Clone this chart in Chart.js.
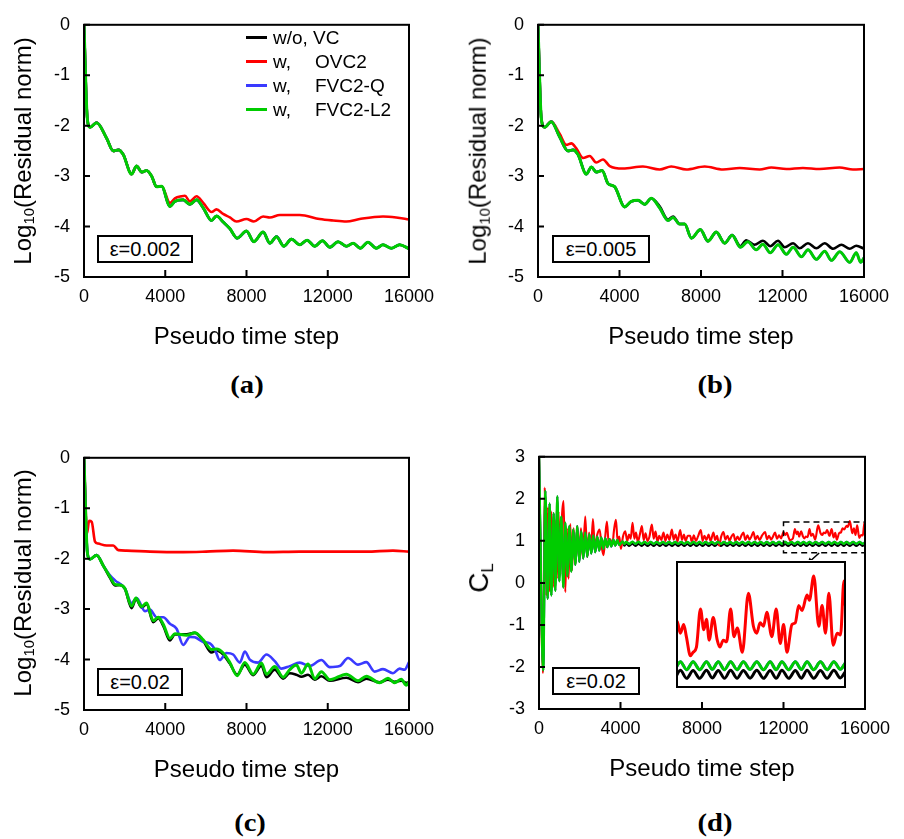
<!DOCTYPE html>
<html><head><meta charset="utf-8">
<script src="https://cdn.jsdelivr.net/npm/chart.js@4.4.1/dist/chart.umd.min.js"></script>
<style>
body{margin:0;background:#fff;width:904px;height:839px;position:relative;overflow:hidden;font-family:'Liberation Sans',Arial,sans-serif;color:#000}
canvas{position:absolute}
.ytitle{position:absolute;transform:translate(-50%,-50%) rotate(-90deg);white-space:nowrap;font-size:24px;line-height:1}
.ytitle sub{font-size:0.62em;vertical-align:-0.25em}
.cl{font-size:28px}
.cl sub{font-size:0.6em;vertical-align:-0.3em}
.cap{position:absolute;transform:translate(-50%,-50%) scaleX(1.1);font-family:'Liberation Serif','Times New Roman',serif;font-weight:bold;font-size:26px;white-space:nowrap;line-height:1}
.eps{position:absolute;border:2px solid #000;box-sizing:border-box;display:flex;align-items:center;justify-content:center;font-size:20px;background:#fff}
.legline{position:absolute;height:3px;width:21px}
.legtxt{position:absolute;font-size:19px;transform:translateY(-50%);white-space:nowrap;line-height:1}
</style></head>
<body>
<canvas id="ca" width="452" height="360" style="left:0;top:0"></canvas>
<canvas id="cb" width="452" height="360" style="left:452px;top:0"></canvas>
<canvas id="cc" width="452" height="360" style="left:0;top:433px"></canvas>
<canvas id="cd" width="452" height="360" style="left:452px;top:432px"></canvas>
<canvas id="ci" width="172" height="129" style="left:675px;top:560px;background:#fff"></canvas>
<div id="overlay"></div>
<script>
// ---------- DATA ----------
const stepTicks = [0, 4000, 8000, 12000, 16000];
const resTicks = [0, -1, -2, -3, -4, -5];
const clTicks = [3, 2, 1, 0, -1, -2, -3];
const seriesLabels = [['w/o, VC', ''], ['w,', 'OVC2'], ['w,', 'FVC2-Q'], ['w,', 'FVC2-L2']];
const epsLabels = ['ε=0.002', 'ε=0.005', 'ε=0.02', 'ε=0.02'];
const panelLabels = ['(a)', '(b)', '(c)', '(d)'];
const xTitle = 'Pseudo time step';

// (a) eps=0.002 : w/o VC, FVC2-Q, FVC2-L2 coincide
const aBase = [[0,0],[165,-1.87],[300,-2.03],[620,-1.94],[1115,-2.25],[1440,-2.5],[1690,-2.48],[1930,-2.57],[2340,-2.96],[2590,-2.8],[2840,-2.92],[3080,-2.89],[3330,-3.0],[3570,-3.21],[3820,-3.2],[4230,-3.6],[4475,-3.5],[4885,-3.47],[5210,-3.56],[5540,-3.47],[5870,-3.63],[6280,-3.88],[6520,-3.79],[6850,-3.91],[7180,-4.04],[7540,-4.23],[8000,-4.09],[8360,-4.3],[8820,-4.11],[9150,-4.33],[9475,-4.2],[9840,-4.39],[10210,-4.25],[10620,-4.36],[10980,-4.27],[11360,-4.39],[11740,-4.28],[12100,-4.41],[12510,-4.3],[12920,-4.39],[13250,-4.33],[13600,-4.43],[13980,-4.31],[14390,-4.43],[14720,-4.36],[15130,-4.43],[15540,-4.36],[16000,-4.44]];
const aOVC2 = [[0,0],[165,-1.87],[300,-2.03],[620,-1.94],[1115,-2.25],[1440,-2.5],[1690,-2.48],[1930,-2.57],[2340,-2.96],[2590,-2.8],[2840,-2.92],[3080,-2.89],[3330,-3.0],[3570,-3.21],[3820,-3.2],[4230,-3.53],[4475,-3.44],[4800,-3.4],[4970,-3.39],[5210,-3.5],[5540,-3.4],[5870,-3.53],[6280,-3.71],[6520,-3.66],[6850,-3.75],[7180,-3.82],[7510,-3.9],[8000,-3.85],[8360,-3.9],[8820,-3.8],[9150,-3.82],[9640,-3.77],[10620,-3.77],[11600,-3.85],[12260,-3.88],[12920,-3.9],[13570,-3.85],[14720,-3.8],[15370,-3.82],[16000,-3.86]];

// (b) eps=0.005 : FVC2-Q and FVC2-L2 coincide
const bVC = [[0,0],[165,-1.87],[330,-2.03],[650,-1.92],[1060,-2.22],[1470,-2.5],[1720,-2.48],[1960,-2.57],[2370,-2.96],[2620,-2.82],[2860,-2.92],[3150,-2.89],[3440,-3.15],[3760,-3.21],[4250,-3.61],[4580,-3.5],[4910,-3.48],[5240,-3.56],[5560,-3.44],[5970,-3.6],[6380,-3.86],[6630,-3.8],[6950,-3.95],[7200,-3.95],[7530,-4.23],[7970,-4.06],[8340,-4.29],[8750,-4.11],[9160,-4.33],[9530,-4.17],[9930,-4.39],[10220,-4.27],[10630,-4.36],[11040,-4.28],[11400,-4.39],[11780,-4.28],[12110,-4.41],[12520,-4.33],[12840,-4.43],[13250,-4.33],[13660,-4.43],[14070,-4.33],[14480,-4.44],[14890,-4.36],[15300,-4.44],[15620,-4.38],[16000,-4.44]];
const bOVC2 = [[0,0],[165,-1.87],[330,-2.03],[650,-1.92],[1060,-2.16],[1390,-2.38],[1640,-2.35],[1880,-2.45],[2210,-2.64],[2540,-2.6],[2860,-2.73],[3190,-2.67],[3520,-2.8],[4170,-2.85],[5150,-2.81],[5970,-2.87],[6540,-2.81],[7280,-2.87],[8180,-2.81],[9080,-2.87],[9900,-2.84],[10880,-2.87],[11450,-2.83],[12190,-2.86],[13000,-2.84],[13820,-2.86],[14800,-2.83],[15460,-2.87],[16000,-2.86]];
const bFVC = [[0,0],[165,-1.87],[330,-2.03],[650,-1.92],[1060,-2.22],[1470,-2.5],[1720,-2.48],[1960,-2.57],[2370,-2.96],[2620,-2.82],[2860,-2.92],[3150,-2.89],[3440,-3.15],[3760,-3.21],[4250,-3.61],[4580,-3.5],[4910,-3.48],[5240,-3.56],[5560,-3.44],[5970,-3.63],[6380,-3.88],[6630,-3.82],[6950,-3.95],[7200,-3.95],[7530,-4.23],[7970,-4.06],[8340,-4.29],[8750,-4.11],[9160,-4.33],[9530,-4.17],[9930,-4.41],[10300,-4.3],[10710,-4.46],[11040,-4.35],[11400,-4.52],[11780,-4.36],[12190,-4.55],[12520,-4.41],[12930,-4.6],[13250,-4.46],[13660,-4.65],[14070,-4.49],[14400,-4.67],[14810,-4.5],[15300,-4.71],[15620,-4.52],[15840,-4.71],[16000,-4.62]];

// (c) eps=0.02
const cVC = [[0,0],[165,-1.88],[300,-2.01],[620,-1.93],[950,-2.14],[1280,-2.38],[1525,-2.53],[1770,-2.52],[2015,-2.6],[2344,-2.98],[2557,-2.8],[2836,-2.97],[3082,-2.9],[3410,-3.26],[3656,-3.18],[3902,-3.33],[4229,-3.62],[4475,-3.5],[5049,-3.5],[5459,-3.47],[5869,-3.63],[6278,-3.86],[6524,-3.82],[6852,-3.9],[7180,-4.08],[7540,-4.3],[7917,-4.1],[8327,-4.31],[8737,-4.12],[8983,-4.35],[9392,-4.2],[9802,-4.38],[10130,-4.27],[10457,-4.3],[10703,-4.34],[11031,-4.3],[11359,-4.4],[11687,-4.33],[12097,-4.42],[12916,-4.36],[13490,-4.45],[13900,-4.38],[14555,-4.45],[14965,-4.4],[15292,-4.44],[15620,-4.42],[15866,-4.46],[16000,-4.45]];
const cOVC2 = [[0,0],[150,-1.5],[250,-1.25],[380,-1.27],[540,-1.66],[700,-1.7],[1115,-1.74],[1440,-1.74],[1690,-1.83],[2100,-1.84],[3250,-1.86],[4880,-1.87],[6000,-1.86],[7340,-1.84],[8980,-1.87],[10620,-1.86],[12260,-1.86],[13900,-1.86],[15210,-1.84],[16000,-1.86]];
const cFVCQ = [[0,0],[165,-1.88],[300,-2.01],[620,-1.93],[950,-2.14],[1280,-2.33],[1525,-2.43],[2015,-2.59],[2344,-2.88],[2590,-2.78],[3000,-3.04],[3245,-3.01],[3573,-3.16],[3902,-3.16],[4229,-3.29],[4557,-3.39],[4884,-3.71],[5212,-3.55],[5458,-3.56],[5868,-3.65],[6196,-3.68],[6442,-3.8],[6687,-4.01],[7015,-3.87],[7343,-3.9],[7671,-4.06],[7917,-3.84],[8163,-4.0],[8572,-4.06],[8982,-3.9],[9392,-4.03],[9720,-4.18],[10130,-4.13],[10621,-4.06],[11113,-4.13],[11686,-4.01],[12097,-4.15],[12588,-4.13],[12998,-3.97],[13490,-4.1],[13900,-4.05],[14309,-4.24],[14719,-4.19],[15210,-4.27],[15538,-4.18],[15784,-4.2],[16000,-4.05]];
const cFVCL2 = [[0,0],[165,-1.88],[300,-2.01],[620,-1.93],[950,-2.14],[1280,-2.36],[1525,-2.51],[1770,-2.52],[2015,-2.59],[2344,-2.94],[2557,-2.78],[2836,-2.95],[3082,-2.88],[3410,-3.23],[3656,-3.16],[3902,-3.3],[4229,-3.58],[4475,-3.49],[5049,-3.52],[5459,-3.47],[5869,-3.61],[6278,-3.8],[6524,-3.79],[6852,-3.87],[7180,-4.06],[7540,-4.32],[7917,-4.06],[8327,-4.29],[8737,-4.07],[8983,-4.29],[9392,-4.14],[9802,-4.35],[10130,-4.2],[10457,-4.11],[10703,-4.27],[11031,-4.09],[11359,-4.38],[11687,-4.24],[12097,-4.4],[12916,-4.29],[13490,-4.42],[13900,-4.33],[14555,-4.46],[14965,-4.37],[15292,-4.46],[15620,-4.39],[15866,-4.51],[16000,-4.44]];

// (d) lift coefficient, eps=0.02 ; transient shared by VC / FVC2 runs
const dEarly = [[0,3.05],[210,-2.08],[310,2.19],[425,-0.38],[523,1.89],[605,-0.3],[719,1.66],[800,-0.19],[899,2.06],[997,0.04],[1095,1.58],[1193,-0.11],[1291,1.43],[1389,0.16],[1487,1.35],[1585,0.27],[1683,1.27],[1781,0.43],[1879,1.35],[1977,0.5],[2075,1.23],[2173,0.58],[2271,1.2],[2369,0.62],[2467,1.16],[2565,0.7],[2663,1.13],[2761,0.73],[2860,1.1],[2958,0.77],[3056,1.08],[3154,0.81],[3252,1.06],[3350,0.85],[3448,1.04],[3546,0.87],[3644,1.03],[3742,0.89],[3840,1.02],[3938,0.9]];
const dFVCLate = [[4100,0.985],[4190,0.925],[4280,0.98],[4430,0.925],[4580,0.98],[4730,0.928],[4880,0.978],[5030,0.93],[5180,0.976],[5330,0.93],[5480,0.975],[5630,0.93],[5780,0.976],[5930,0.93],[6080,0.975],[6230,0.929],[6380,0.975],[6530,0.93],[6680,0.976],[6830,0.93],[6980,0.975],[7130,0.93],[7280,0.974],[7430,0.931],[7580,0.975],[7730,0.93],[7880,0.975],[8030,0.93],[8180,0.976],[8330,0.93],[8480,0.975],[8630,0.93],[8780,0.975],[8930,0.931],[9080,0.975],[9230,0.93],[9380,0.974],[9530,0.93],[9680,0.975],[9830,0.93],[9980,0.975],[10130,0.93],[10280,0.976],[10430,0.93],[10580,0.975],[10730,0.93],[10880,0.975],[11030,0.931],[11180,0.975],[11330,0.93],[11480,0.975],[11630,0.93],[11780,0.975],[11930,0.93],[12080,0.976],[12230,0.93],[12383,0.975],[12540,0.93],[12702,0.976],[12840,0.932],[12982,0.975],[13130,0.93],[13277,0.976],[13430,0.93],[13580,0.975],[13740,0.931],[13899,0.976],[14060,0.93],[14218,0.975],[14360,0.93],[14498,0.976],[14660,0.93],[14817,0.975],[14960,0.931],[15096,0.976],[15255,0.93],[15415,0.975],[15575,0.93],[15735,0.976],[15890,0.932],[16000,0.965]];
const dVCLate = [[4100,0.96],[4190,0.885],[4280,0.935],[4430,0.88],[4580,0.93],[4730,0.88],[4880,0.928],[5030,0.882],[5180,0.926],[5330,0.88],[5480,0.925],[5630,0.88],[5780,0.926],[5930,0.88],[6080,0.925],[6230,0.879],[6380,0.925],[6530,0.88],[6680,0.926],[6830,0.88],[6980,0.925],[7130,0.88],[7280,0.924],[7430,0.881],[7580,0.925],[7730,0.88],[7880,0.925],[8030,0.88],[8180,0.926],[8330,0.88],[8480,0.925],[8630,0.88],[8780,0.925],[8930,0.881],[9080,0.925],[9230,0.88],[9380,0.924],[9530,0.88],[9680,0.925],[9830,0.88],[9980,0.925],[10130,0.88],[10280,0.926],[10430,0.88],[10580,0.925],[10730,0.88],[10880,0.925],[11030,0.881],[11180,0.925],[11330,0.88],[11480,0.925],[11630,0.88],[11780,0.925],[11930,0.88],[12080,0.926],[12230,0.88],[12383,0.925],[12540,0.88],[12702,0.926],[12840,0.882],[12982,0.925],[13130,0.88],[13277,0.926],[13430,0.88],[13580,0.925],[13740,0.881],[13899,0.926],[14060,0.88],[14218,0.925],[14360,0.88],[14498,0.926],[14660,0.88],[14817,0.925],[14960,0.881],[15096,0.926],[15255,0.88],[15415,0.925],[15575,0.88],[15735,0.926],[15890,0.882],[16000,0.915]];
const dOVC2 = [[0,3.05],[196,-2.15],[280,2.27],[360,-0.3],[440,1.8],[520,-0.2],[600,1.7],[690,-0.1],[780,1.5],[880,0.1],[960,1.7],[1050,0.2],[1130,1.6],[1210,1.95],[1291,-0.22],[1370,1.3],[1450,0.1],[1536,1.4],[1620,0.3],[1700,1.3],[1790,0.45],[1880,1.35],[1970,0.55],[2060,1.3],[2150,0.6],[2271,1.58],[2370,0.62],[2460,1.2],[2550,0.75],[2647,1.52],[2740,0.85],[2860,1.15],[2974,1.27],[3080,0.85],[3170,0.66],[3250,1.1],[3333,1.46],[3420,0.95],[3500,1.04],[3600,0.9],[3680,1.25],[3775,1.5],[3860,1.0],[3940,1.1],[4020,0.81],[4120,1.1],[4232,1.23],[4330,1.0],[4420,1.15],[4500,1.05],[4591,1.43],[4680,1.05],[4760,1.2],[4850,0.98],[4950,1.15],[5049,1.35],[5140,1.02],[5230,1.18],[5320,1.0],[5420,1.1],[5539,1.39],[5630,1.05],[5720,1.22],[5810,0.98],[5900,1.12],[6000,1.02],[6111,1.2],[6200,1.0],[6300,1.15],[6400,1.02],[6520,1.27],[6610,1.03],[6700,1.15],[6800,0.99],[6928,1.26],[7020,1.02],[7110,1.15],[7200,1.0],[7300,1.12],[7418,1.12],[7500,0.98],[7600,1.13],[7700,1.0],[7800,1.1],[7941,1.26],[8030,1.0],[8120,1.12],[8220,1.02],[8320,1.15],[8420,1.0],[8562,1.2],[8650,1.02],[8740,1.12],[8840,0.89],[8940,1.1],[9052,1.21],[9150,1.03],[9250,1.12],[9350,1.0],[9440,1.1],[9543,1.16],[9640,1.0],[9740,1.1],[9840,1.02],[9930,1.12],[10033,1.2],[10130,1.02],[10230,1.13],[10330,1.03],[10420,1.1],[10523,1.21],[10620,1.03],[10720,1.12],[10820,1.02],[10950,1.13],[11095,1.21],[11190,1.04],[11290,1.12],[11390,1.03],[11480,1.1],[11585,1.2],[11680,1.05],[11780,1.13],[11880,1.06],[11950,1.15],[12000,1.21],[12080,1.14],[12160,1.19],[12223,1.12],[12319,1.01],[12383,1.03],[12463,1.06],[12559,1.28],[12638,1.16],[12702,1.22],[12766,1.1],[12862,1.23],[12958,1.1],[13021,1.06],[13101,1.1],[13181,1.09],[13277,1.28],[13357,1.12],[13436,1.17],[13556,1.03],[13700,1.37],[13819,1.18],[13899,1.14],[13979,1.2],[14059,1.18],[14139,1.26],[14258,1.12],[14362,1.28],[14458,1.08],[14538,1.19],[14617,1.03],[14737,1.19],[14817,1.2],[14897,1.3],[14977,1.27],[15096,1.36],[15152,1.33],[15256,1.47],[15376,1.18],[15455,1.3],[15535,1.14],[15615,1.37],[15719,1.07],[15814,1.14],[15894,1.13],[15974,1.44],[16000,1.3]];

// zoom window shown in the inset of (d)
const insetSteps = [12000, 16000];
const insetCL = [0.83, 1.55];
const zoomBoxCL = [0.72, 1.45];

// ---------- STYLE ----------
const COLORS = ['#000000', '#ff0000', '#3a3aff', '#00cc00'];
Chart.defaults.font.family = "'Liberation Sans', Arial, sans-serif";
Chart.defaults.color = '#000';

function ds(i, pairs, width) {
  return {
    label: seriesLabels[i].join(' '),
    data: pairs.map(p => ({ x: p[0], y: p[1] })),
    borderColor: COLORS[i], backgroundColor: COLORS[i],
    borderWidth: width, pointRadius: 0, pointHoverRadius: 0, fill: false,
    cubicInterpolationMode: 'monotone', order: 3 - i, clip: 0
  };
}

const framePlugin = {
  id: 'frame',
  afterDatasetsDraw(chart, args, o) {
    const { ctx, chartArea: a, scales: { x, y } } = chart;
    ctx.save();
    ctx.strokeStyle = '#000';
    ctx.lineWidth = 2;
    if (o.ticks) {
      ctx.beginPath();
      x.ticks.forEach(t => { const p = x.getPixelForValue(t.value); ctx.moveTo(p, a.bottom); ctx.lineTo(p, a.bottom - 7); });
      y.ticks.forEach(t => { const p = y.getPixelForValue(t.value); ctx.moveTo(a.left, p); ctx.lineTo(a.left + 6, p); });
      ctx.stroke();
    }
    ctx.strokeRect(a.left, a.top, a.right - a.left, a.bottom - a.top);
    if (o.zoomBox) {
      const b = o.zoomBox;
      const x0 = x.getPixelForValue(b.x[0]), x1 = x.getPixelForValue(b.x[1]);
      const y0 = y.getPixelForValue(b.y[0]), y1 = y.getPixelForValue(b.y[1]);
      ctx.setLineDash([6, 4]); ctx.lineWidth = 1.5;
      ctx.strokeRect(x0, y1, x1 - x0, y0 - y1);
      ctx.setLineDash([]);
      const ax0 = x.getPixelForValue(b.arrow[0]), ay0 = y.getPixelForValue(b.arrow[1]);
      const ax1 = x.getPixelForValue(b.arrow[2]), ay1 = y.getPixelForValue(b.arrow[3]);
      ctx.beginPath(); ctx.moveTo(ax0, ay0); ctx.lineTo(ax1, ay1); ctx.stroke();
      const ang = Math.atan2(ay1 - ay0, ax1 - ax0);
      ctx.beginPath(); ctx.moveTo(ax1, ay1);
      ctx.lineTo(ax1 - 7 * Math.cos(ang - 0.45), ay1 - 7 * Math.sin(ang - 0.45));
      ctx.lineTo(ax1 - 7 * Math.cos(ang + 0.45), ay1 - 7 * Math.sin(ang + 0.45));
      ctx.closePath(); ctx.fillStyle = '#000'; ctx.fill();
    }
    ctx.restore();
  }
};

function mainChart(id, datasets, yTicks, geom, frameOpts) {
  return new Chart(document.getElementById(id), {
    type: 'line',
    data: { datasets },
    options: {
      responsive: false, animation: false, devicePixelRatio: 1, events: [],
      layout: { padding: { left: 0, top: geom.top, right: geom.right, bottom: 0 } },
      plugins: { legend: { display: false }, tooltip: { enabled: false }, frame: frameOpts },
      scales: {
        x: {
          type: 'linear', min: stepTicks[0], max: stepTicks[stepTicks.length - 1],
          afterBuildTicks: s => { s.ticks = stepTicks.map(v => ({ value: v })); },
          afterFit: s => { s.height = geom.xh; },
          grid: { display: false, drawTicks: false }, border: { display: false },
          ticks: { autoSkip: false, maxRotation: 0, padding: 9, font: { size: 18 }, color: '#000', callback: v => String(v) },
          title: { display: true, text: xTitle, font: { size: 24 }, color: '#000', padding: { top: 0, bottom: 8 } }
        },
        y: {
          type: 'linear', min: Math.min(...yTicks), max: Math.max(...yTicks),
          afterBuildTicks: s => { s.ticks = yTicks.map(v => ({ value: v })); },
          afterFit: s => { s.width = geom.yw; },
          grid: { display: false, drawTicks: false }, border: { display: false },
          ticks: { autoSkip: false, padding: 14, font: { size: 18 }, color: '#000', callback: v => String(v) }
        }
      }
    },
    plugins: [framePlugin]
  });
}

const W = 2.6;
mainChart('ca', [ds(0, aBase, W), ds(1, aOVC2, W), ds(2, aBase, W), ds(3, aBase, 3)], resTicks,
  { top: 16, right: 43, yw: 84, xh: 83 }, { ticks: true });
mainChart('cb', [ds(0, bVC, W), ds(1, bOVC2, W), ds(2, bFVC, W), ds(3, bFVC, 3)], resTicks,
  { top: 16, right: 40, yw: 86, xh: 83 }, { ticks: true });
mainChart('cc', [ds(0, cVC, W), ds(1, cOVC2, W), ds(2, cFVCQ, W), ds(3, cFVCL2, 3)], resTicks,
  { top: 16, right: 43, yw: 84, xh: 83 }, { ticks: true });

const dVC = dEarly.concat(dVCLate);
const dFVC = dEarly.concat(dFVCLate);
const WD = 2.1;
mainChart('cd', [ds(0, dVC, WD), ds(1, dOVC2, WD), ds(2, dFVC, WD), ds(3, dFVC, 2.4)], clTicks,
  { top: 16, right: 39, yw: 87, xh: 83 },
  { ticks: true, zoomBox: { x: insetSteps, y: zoomBoxCL, arrow: [13750, 0.71, 13150, 0.45] } });

new Chart(document.getElementById('ci'), {
  type: 'line',
  data: { datasets: [ds(0, dVC, 3), ds(1, dOVC2, 3), ds(2, dFVC, 3), ds(3, dFVC, 3)] },
  options: {
    responsive: false, animation: false, devicePixelRatio: 1, events: [],
    layout: { padding: 2 },
    plugins: { legend: { display: false }, tooltip: { enabled: false }, frame: { ticks: false } },
    scales: {
      x: { type: 'linear', min: insetSteps[0], max: insetSteps[1], display: false },
      y: { type: 'linear', min: insetCL[0], max: insetCL[1], display: false }
    }
  },
  plugins: [framePlugin]
});

// ---------- TEXT OVERLAYS ----------
const ov = document.getElementById('overlay');
function add(html, cls, style) {
  const d = document.createElement('div');
  d.className = cls; d.innerHTML = html; d.setAttribute('style', style); ov.appendChild(d);
}
const logTitle = 'Log<sub>10</sub>(Residual norm)';
add(logTitle, 'ytitle', 'left:24px;top:151px');
add(logTitle, 'ytitle', 'left:479px;top:151px');
add(logTitle, 'ytitle', 'left:24px;top:583px');
add('C<sub>L</sub>', 'ytitle cl', 'left:481px;top:578px');

const capPos = [[247, 385], [715, 385], [250, 823], [715, 823]];
panelLabels.forEach((t, i) => add(t, 'cap', `left:${capPos[i][0]}px;top:${capPos[i][1]}px`));

const epsPos = [[97, 235, 96], [552, 235, 98], [97, 668, 86], [552, 667, 88]];
epsLabels.forEach((t, i) => add(t, 'eps', `left:${epsPos[i][0]}px;top:${epsPos[i][1]}px;width:${epsPos[i][2]}px;height:28px`));

const legRows = [37, 61, 85, 109];
seriesLabels.forEach((lab, i) => {
  add('', 'legline', `left:246px;top:${legRows[i] - 1.5}px;background:${COLORS[i]}`);
  add(lab[0], 'legtxt', `left:273px;top:${legRows[i]}px`);
  if (lab[1]) add(lab[1], 'legtxt', `left:315px;top:${legRows[i]}px`);
});
</script>
</body></html>
